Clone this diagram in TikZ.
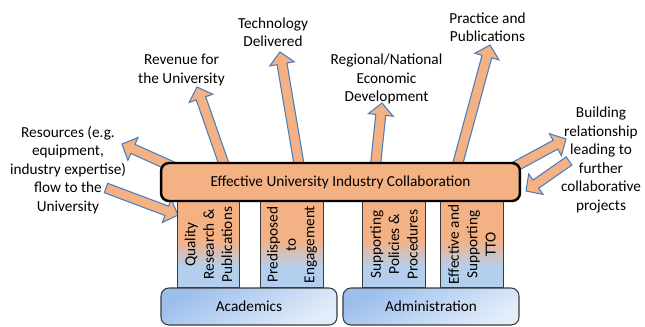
\documentclass[tikz,border=0pt]{standalone}
\usepackage{fontspec}
\setmainfont{Carlito}
\usetikzlibrary{calc}
\definecolor{boxorange}{HTML}{F4B183}
\definecolor{arrowblue}{HTML}{4A7EBB}
\definecolor{pillarblue}{HTML}{B4CFEE}
\definecolor{basetop}{HTML}{9CBEEC}
\definecolor{basebottom}{HTML}{E2EDFA}
\definecolor{edgegray}{HTML}{3A3A3A}
\pgfdeclareverticalshading{pillarshade}{100bp}{color(0bp)=(pillarblue); color(37bp)=(pillarblue); color(53bp)=(boxorange); color(100bp)=(boxorange)}

\tikzset{
  flow/.style={draw=arrowblue, fill=boxorange, line width=0.6pt, line join=miter},
  mainbox/.style={draw=black, fill=boxorange, line width=1.4pt, rounded corners=4.5pt,
    minimum width=7.18cm, minimum height=0.76cm},
  pillar/.style={draw=edgegray, line width=0.6pt, shading=pillarshade,
    minimum width=1.25cm, minimum height=1.74cm, inner sep=0pt},
  pillartext/.style={rotate=90, align=center},
  basebox/.style={draw=edgegray, line width=0.6pt, rounded corners=4.5pt,
    top color=basetop, bottom color=basebottom, shading angle=30,
    minimum width=3.52cm, minimum height=0.74cm},
  outcome/.style={align=center, inner sep=0pt}
}

\newcommand{\flowarrow}[2]{%
  \coordinate (hd) at ($(#2)!0.24cm!(#1)$);
  \draw[flow] ($(#1)!0.1cm!90:(#2)$) -- ($(hd)!0.1cm!90:(#2)$) -- ($(hd)!0.25cm!90:(#2)$) -- (#2)
    -- ($(hd)!0.25cm!-90:(#2)$) -- ($(hd)!0.1cm!-90:(#2)$) -- ($(#1)!0.1cm!-90:(#2)$) -- cycle;
}

\begin{document}
\begin{tikzpicture}[x=0.02cm, y=-0.02cm, every node/.style={font=\fontsize{8.7}{10.5}\selectfont}]

\useasboundingbox (0,0) rectangle (645,326);

% arrow ends
\coordinate (resout-s) at (180,170);  \coordinate (resout-t) at (122,144);
\coordinate (resin-s) at (106,188);   \coordinate (resin-t) at (178,215);
\coordinate (rev-s) at (226,170);     \coordinate (rev-t) at (197,87);
\coordinate (tech-s) at (300,170);    \coordinate (tech-t) at (280,52);
\coordinate (reg-s) at (375,170);     \coordinate (reg-t) at (382,103);
\coordinate (prac-s) at (456,170);    \coordinate (prac-t) at (490,45);
\coordinate (bldout-s) at (505,172);  \coordinate (bldout-t) at (566,139);
\coordinate (bldin-s) at (569,161);   \coordinate (bldin-t) at (526,191);

\flowarrow{resout-s}{resout-t}
\flowarrow{resin-s}{resin-t}
\flowarrow{rev-s}{rev-t}
\flowarrow{tech-s}{tech-t}
\flowarrow{reg-s}{reg-t}
\flowarrow{prac-s}{prac-t}
\flowarrow{bldout-s}{bldout-t}
\flowarrow{bldin-s}{bldin-t}

% pillars
\node[pillar] (qrp) at (208.5,244.5) {};
\node[pillar] (pte) at (292,244.5) {};
\node[pillar] (spp) at (394,244.5) {};
\node[pillar] (tto) at (472,244.5) {};

\node[pillartext] at (qrp) {Quality\\Research \&\\Publications};
\node[pillartext] at (pte) {Predisposed\\to\\Engagement};
\node[pillartext] at (spp) {Supporting\\Policies \&\\Procedures};
\node[pillartext] at (tto) {Effective and\\Supporting\\TTO};

\node[mainbox] (euic) at (340.5,182) {Effective University Industry Collaboration};

\node[basebox] (acad) at (249,306.5) {Academics};
\node[basebox] (admin) at (431,306.5) {Administration};

% outcomes
\node[outcome] (res) at (68,170) {Resources (e.g.\\equipment,\\industry expertise)\\flow to the\\University};
\node[outcome] (rev) at (181.5,70) {Revenue for\\the University};
\node[outcome] (tech) at (273,32) {Technology\\Delivered};
\node[outcome] (reg) at (386.5,79) {Regional/National\\Economic\\Development};
\node[outcome] (prac) at (487.5,27) {Practice and\\Publications};
\node[outcome] (bld) at (601,160) {Building\\relationship\\leading to\\further\\collaborative\\projects};

\end{tikzpicture}
\end{document}
